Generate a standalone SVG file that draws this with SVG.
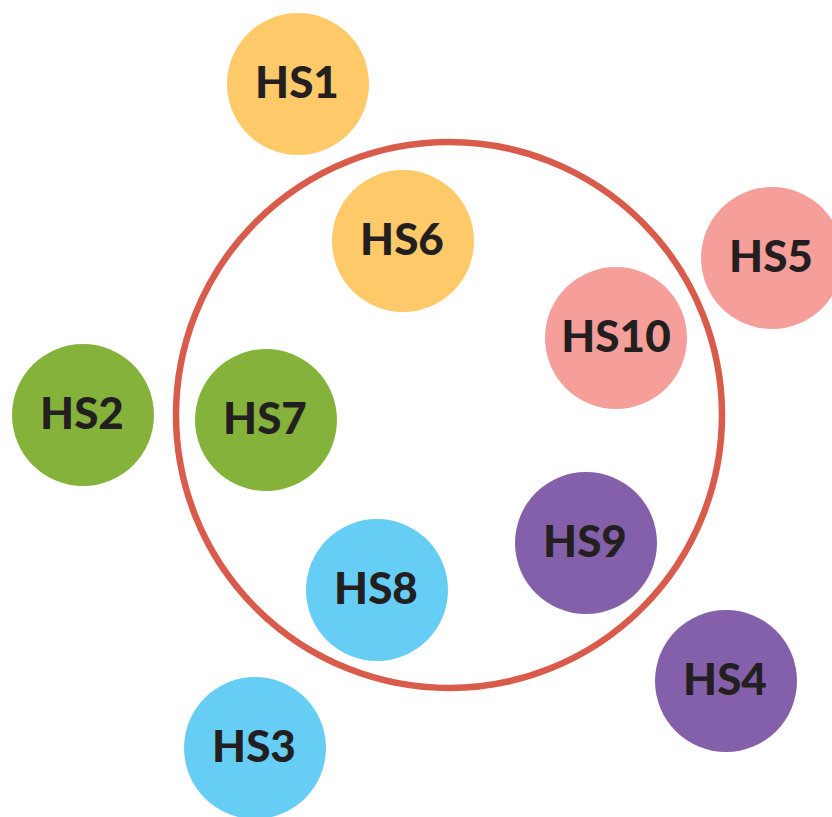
<svg xmlns="http://www.w3.org/2000/svg" width="832" height="817" viewBox="0 0 832 817">
<style>
text{font-family:Lato,"Open Sans",sans-serif;font-weight:900;font-size:44px;fill:#231F20;text-anchor:middle;dominant-baseline:central}
.y{fill:#FEC968}.p{fill:#F59E9A}.g{fill:#85B23B}.b{fill:#66CEF5}.v{fill:#8460AB}
</style>
<rect width="832" height="817" fill="#FFFFFF"/>
<g id="ring"><circle cx="449" cy="415" r="273" fill="none" stroke="#D95B4B" stroke-width="6.5"/></g>
<g id="hs1"><circle class="y" cx="298" cy="84" r="71"/><text x="297" y="81">HS1</text></g>
<g id="hs6"><circle class="y" cx="403" cy="241" r="71"/><text x="402" y="238">HS6</text></g>
<g id="hs5"><circle class="p" cx="772" cy="258" r="71"/><text x="771" y="255">HS5</text></g>
<g id="hs10"><circle class="p" cx="616" cy="338" r="71"/><text x="616" y="335">HS10</text></g>
<g id="hs2"><circle class="g" cx="83" cy="415" r="71"/><text x="82" y="412">HS2</text></g>
<g id="hs7"><circle class="g" cx="266" cy="420" r="71"/><text x="265" y="417">HS7</text></g>
<g id="hs9"><circle class="v" cx="586" cy="543" r="71"/><text x="585" y="540">HS9</text></g>
<g id="hs8"><circle class="b" cx="377" cy="590" r="71"/><text x="376" y="587">HS8</text></g>
<g id="hs4"><circle class="v" cx="726" cy="681" r="71"/><text x="725" y="678">HS4</text></g>
<g id="hs3"><circle class="b" cx="255" cy="748" r="71"/><text x="254" y="745">HS3</text></g>
</svg>
